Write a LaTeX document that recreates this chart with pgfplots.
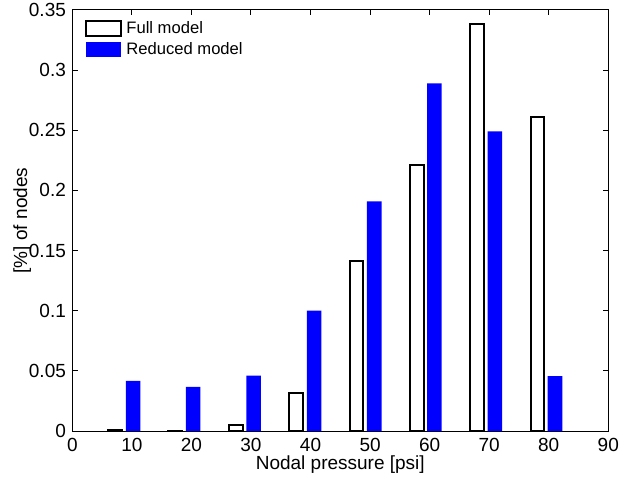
\documentclass[border=0pt]{standalone}
\usepackage{pgfplots}
\pgfplotsset{compat=1.18}
\usepackage{fontspec}
\setmainfont{Liberation Sans}
\definecolor{mblue}{RGB}{0,0,255}
\begin{document}
\begin{tikzpicture}
\begin{axis}[
  scale only axis, width=268pt, height=210.5pt,
  xmin=0, xmax=90, ymin=0, ymax=0.35,
  xtick={0,10,20,30,40,50,60,70,80,90},
  ytick={0,0.05,0.1,0.15,0.2,0.25,0.3,0.35},
  tick align=inside, major tick length=2.7pt,
  axis line style={line width=0.5pt},
  every tick/.style={black, line width=0.5pt},
  /pgf/number format/assume math mode=true,
  scaled y ticks=false,
  yticklabel style={/pgf/number format/fixed, /pgf/number format/precision=2, anchor=east, inner sep=0pt, xshift=-3pt},
  xticklabel style={anchor=north, inner sep=0pt},
  xticklabel shift=3.5pt,
  tick label style={font=\fontsize{9.5}{11}\selectfont},
  label style={font=\fontsize{9.5}{11}\selectfont},
  xlabel={Nodal pressure [psi]}, ylabel={[\%] of nodes},
  xlabel style={at={(axis description cs:0.5,-0.0903)}, anchor=base, inner sep=0pt},
  ylabel style={at={(axis description cs:-0.0935,0.5)}, anchor=center, inner sep=0pt},
  legend style={at={(axis description cs:0,1)}, anchor=north west, xshift=6.35pt, yshift=-5pt,
    draw=none, fill=none, inner sep=0pt, column sep=2pt, row sep=2.5pt,
    font=\fontsize{8.3}{9}\selectfont,
    nodes={inner sep=0pt, text height=6pt, text depth=1.5pt}},
  legend cell align=left,
]
\addplot[ybar, bar width=2.3, fill=white, draw=black, line width=1pt,
  legend image code/.code={\draw[black, fill=white, line width=1pt] (0pt,-3.75pt) rectangle (17.5pt,3.75pt);}]
  coordinates {(7.2,0.0008) (17.3,0.0003) (27.45,0.005) (37.6,0.032) (47.7,0.141) (57.85,0.221) (68.0,0.338) (78.1,0.261)};
\addlegendentry{Full model}
\addplot[ybar, bar width=2.45, fill=mblue, draw=none,
  legend image code/.code={\fill[mblue] (0pt,-3.75pt) rectangle (17.5pt,3.75pt);}]
  coordinates {(10.2,0.0416) (20.3,0.0366) (30.45,0.046) (40.6,0.100) (50.7,0.191) (60.8,0.289) (70.95,0.249) (81.05,0.0457)};
\addlegendentry{Reduced model}
\end{axis}
\pgfresetboundingbox
\path[use as bounding box] ([shift={(-36.15pt,-25.5pt)}]current axis.south west) rectangle ([shift={(6.35pt,5pt)}]current axis.north east);
\end{tikzpicture}
\end{document}
